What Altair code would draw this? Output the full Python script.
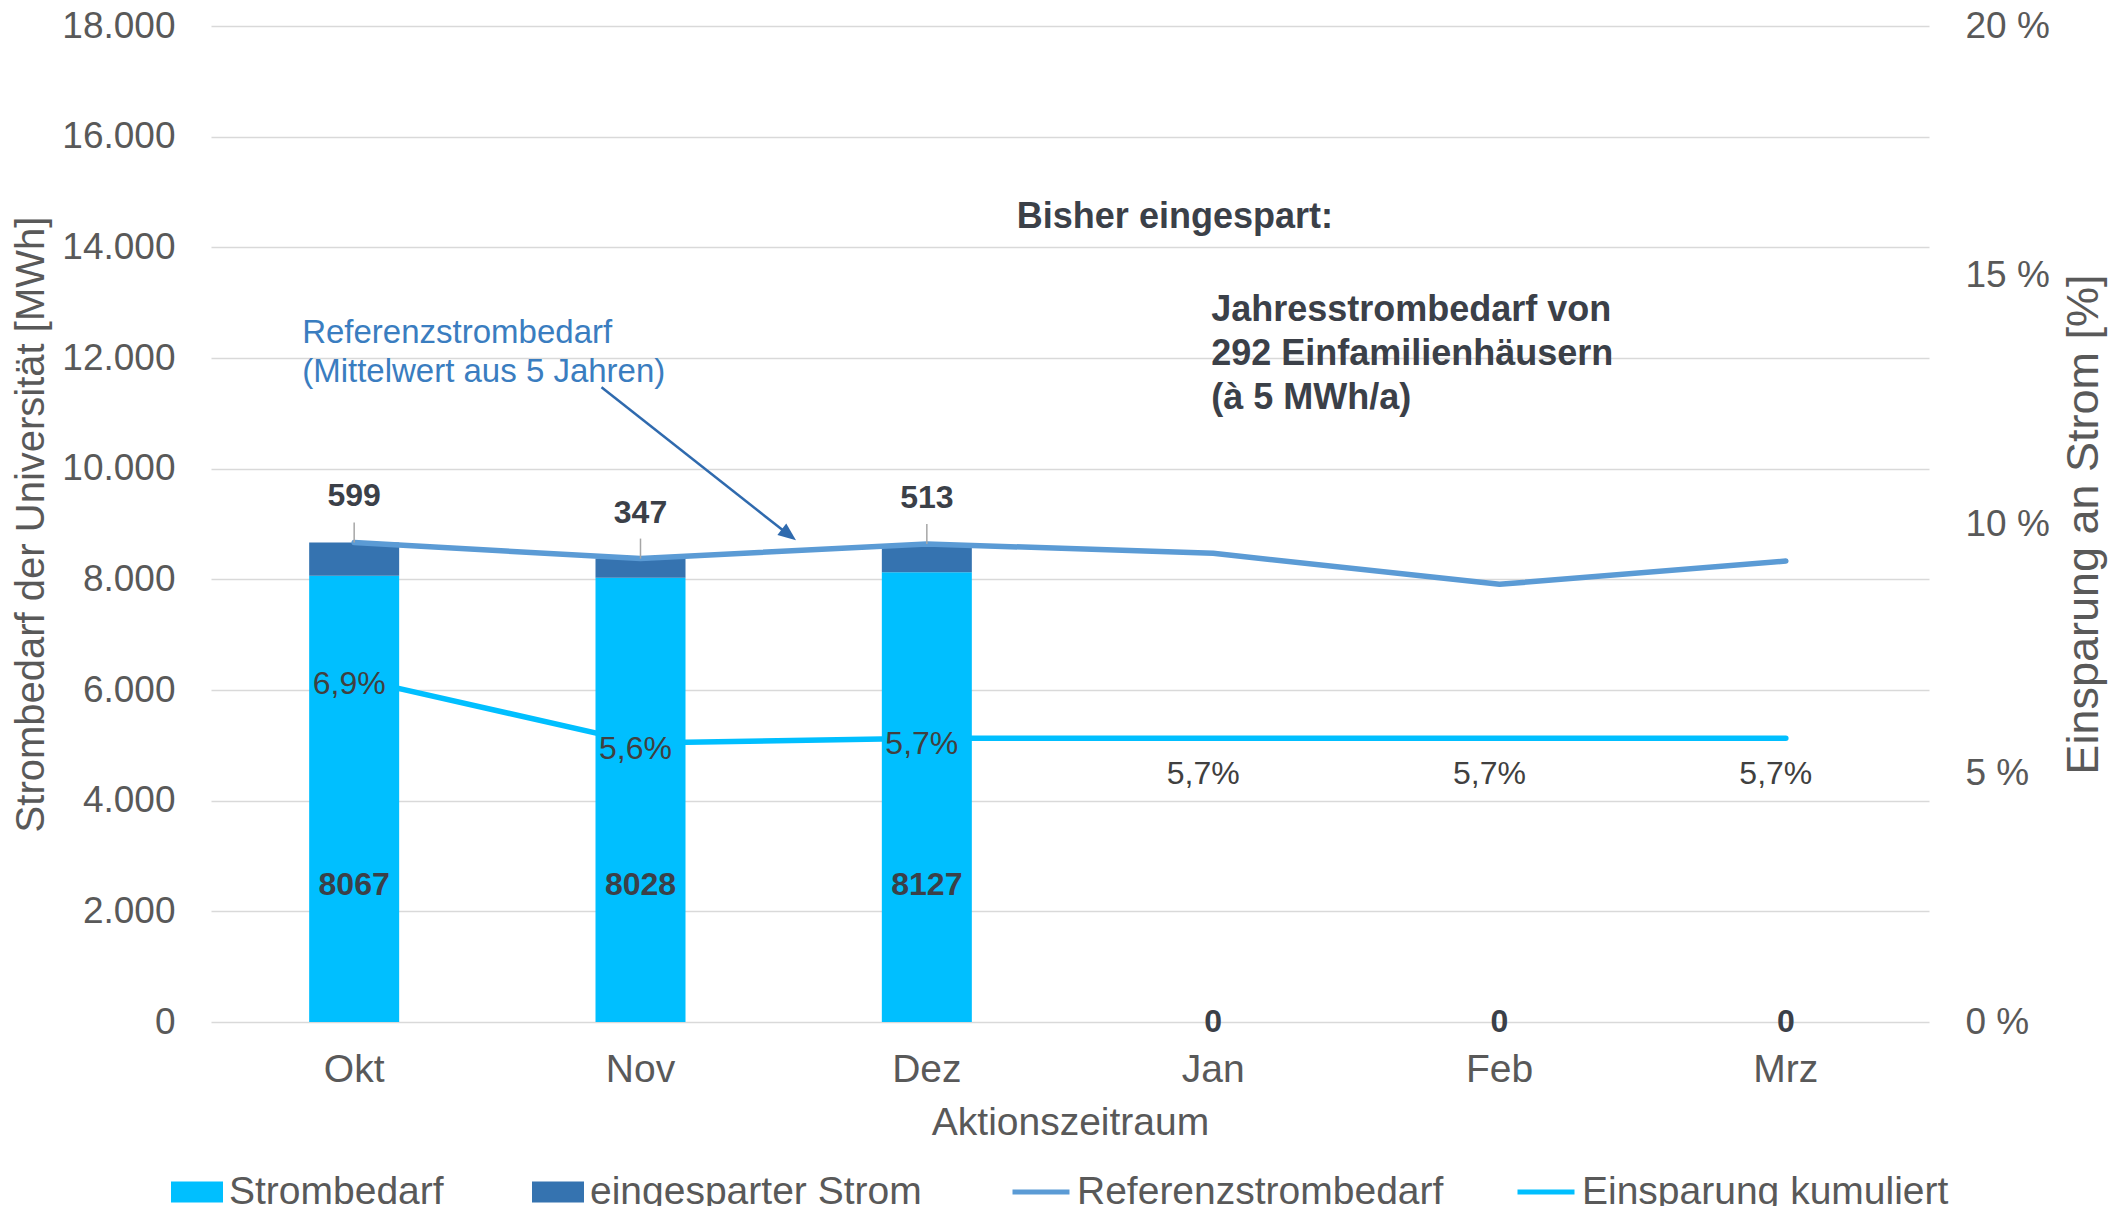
import altair as alt
import pandas as pd

# ---------------- data ----------------
months = ["Okt", "Nov", "Dez", "Jan", "Feb", "Mrz"]
strombedarf = [8067, 8028, 8127, 0, 0, 0]
eingespart = [599, 347, 513, 0, 0, 0]
referenz = [8666, 8375, 8640, 8470, 7910, 8330]
kumuliert = [6.9, 5.6, 5.7, 5.7, 5.7, 5.7]

bar_series = ["Strombedarf", "eingesparter Strom"]
bar_colors = ["#00BFFF", "#3573B0"]
line_series = ["Referenzstrombedarf", "Einsparung kumuliert"]
line_colors = ["#5B9BD5", "#00BFFF"]

y_ticks = list(range(0, 18001, 2000))
pct_ticks = [0, 5, 10, 15, 20]

note_ref = ["Referenzstrombedarf", "(Mittelwert aus 5 Jahren)"]
note_title = "Bisher eingespart:"
note_body = ["Jahresstrombedarf von", "292 Einfamilienhäusern", "(à 5 MWh/a)"]

# ---------------- tables ----------------
wide = pd.DataFrame({
    "Monat": months,
    "Strombedarf": strombedarf,
    "Eingespart": eingespart,
    "Referenz": referenz,
    "Kumuliert": kumuliert,
})
long = pd.DataFrame({
    "Monat": months * 2,
    "Serie": [bar_series[0]] * len(months) + [bar_series[1]] * len(months),
    "Wert": strombedarf + eingespart,
    "idx": [0] * len(months) + [1] * len(months),
})
one = pd.DataFrame({"a": [0]})

FONT = "Liberation Sans"
GRAY = "#595959"
DARK = "#3B4048"

# ---------------- scales / axes ----------------
x_enc = alt.X(
    "Monat:N", sort=months,
    scale=alt.Scale(domain=months, paddingInner=0, paddingOuter=0),
    axis=alt.Axis(title="Aktionszeitraum", labelAngle=0, labelFontSize=39,
                  labelColor=GRAY, labelPadding=28, titleFontSize=39,
                  titleFontWeight="normal", titleColor=GRAY, titlePadding=14,
                  domain=False, ticks=False, tickSize=0, grid=False),
)

lscale = alt.Scale(domain=[0, 18000], nice=False)
laxis = alt.Axis(values=y_ticks,
                 labelExpr="replace(format(datum.value, ','), ',', '.')",
                 title="Strombedarf der Universität [MWh]", titleFontSize=40,
                 titleFontWeight="normal", titleColor=GRAY, titlePadding=10,
                 labelFontSize=37, labelColor=GRAY, labelPadding=36,
                 domain=False, ticks=False, tickSize=0, grid=True,
                 gridColor="#D9D9D9", gridWidth=1.5)

rscale = alt.Scale(domain=[0, 20], nice=False)
raxis = alt.Axis(orient="right", values=pct_ticks, labelExpr="datum.value + ' %'",
                 title="Einsparung an Strom [%]", titleAngle=270, titleBaseline="top",
                 titleFontSize=45, titleFontWeight="normal", titleColor=GRAY,
                 titlePadding=12, labelFontSize=37, labelColor=GRAY,
                 labelPadding=36, domain=False, ticks=False, tickSize=0, grid=False)


def ly(field):
    return alt.Y(field, scale=lscale, axis=laxis)


def ry(field):
    return alt.Y(field, scale=rscale, axis=raxis)


fill_legend = alt.Legend(title=None, orient="none", legendX=-40, legendY=1140,
                         direction="horizontal", symbolType="M-1,-0.4H1V0.4H-1Z",
                         symbolSize=2704, symbolStrokeWidth=0, labelFontSize=39,
                         labelColor=GRAY, labelFont=FONT, labelOffset=6,
                         columnPadding=88, labelLimit=0)
stroke_legend = alt.Legend(title=None, orient="none", legendX=799, legendY=1135,
                           direction="horizontal", symbolType="stroke",
                           symbolSize=3249, symbolStrokeWidth=5, labelFontSize=39,
                           labelColor=GRAY, labelFont=FONT, labelOffset=5,
                           columnPadding=63, labelLimit=0)
stroke_scale = alt.Scale(domain=line_series, range=line_colors)

# ---------------- left (MWh) layers ----------------
bars = alt.Chart(long).mark_bar(width=90).encode(
    x=x_enc,
    y=alt.Y("Wert:Q", stack="zero", scale=lscale, axis=laxis),
    fill=alt.Fill("Serie:N", scale=alt.Scale(domain=bar_series, range=bar_colors),
                  legend=fill_legend),
    order=alt.Order("idx:Q"),
)

ref_line = alt.Chart(wide).transform_calculate(
    Linie="'Referenzstrombedarf'"
).mark_line(strokeWidth=5.5, strokeCap="round", strokeJoin="round").encode(
    x=x_enc, y=ly("Referenz:Q"),
    stroke=alt.Stroke("Linie:N", scale=stroke_scale, legend=stroke_legend),
)

bar_labels = alt.Chart(wide).transform_calculate(
    label_y="datum.Strombedarf > 0 ? 2480 : 0"
).mark_text(font=FONT, fontWeight="bold", fontSize=32, color=DARK,
            baseline="middle").encode(
    x=x_enc, y=ly("label_y:Q"), text=alt.Text("Strombedarf:Q", format="d"),
)

saved = alt.Chart(wide).transform_filter("datum.Eingespart > 0").transform_calculate(
    top="datum.Strombedarf + datum.Eingespart"
)
leader = saved.mark_rule(color="#A6A6A6", strokeWidth=1.5, y2Offset=-20).encode(
    x=x_enc, y=ly("top:Q"), y2="top:Q",
)
saved_labels = saved.mark_text(font=FONT, fontWeight="bold", fontSize=32, color=DARK,
                               baseline="middle", dy=-46).encode(
    x=x_enc, y=ly("top:Q"), text=alt.Text("Eingespart:Q", format="d"),
)

blue_note = alt.Chart(one).mark_text(
    text=note_ref, align="left", baseline="top", dx=-52, lineHeight=38.5,
    font=FONT, fontSize=33, color="#3A7DC0",
).encode(x=alt.datum("Okt"), y=alt.datum(12738))

arrow_rule = alt.Chart(one).mark_rule(
    color="#2F6AAE", strokeWidth=2.5, xOffset=-39, x2Offset=145
).encode(x=alt.datum("Nov"), x2=alt.datum("Nov"),
         y=alt.datum(11470), y2=alt.datum(8850))
arrow_head = alt.Chart(one).mark_point(
    shape="M0,0L-2,-0.8L-2,0.8Z", filled=True, size=324, angle=38,
    color="#2F6AAE", opacity=1, strokeWidth=0, xOffset=155.5,
).encode(x=alt.datum("Nov"), y=alt.datum(8705))

title_note = alt.Chart(one).mark_text(
    text=note_title, align="left", baseline="middle", dx=90,
    font=FONT, fontSize=36, fontWeight="bold", color=DARK,
).encode(x=alt.datum("Dez"), y=alt.datum(14543))

body_note = alt.Chart(one).mark_text(
    text=note_body, align="left", baseline="top", dx=-2, lineHeight=44,
    font=FONT, fontSize=36, fontWeight="bold", color=DARK,
).encode(x=alt.datum("Jan"), y=alt.datum(13178))

left = alt.layer(bars, ref_line, bar_labels, leader, saved_labels,
                 blue_note, arrow_rule, arrow_head, title_note, body_note)

# ---------------- right (%) layers ----------------
kum_line = alt.Chart(wide).transform_calculate(
    Linie="'Einsparung kumuliert'"
).mark_line(strokeWidth=5.5, strokeCap="round", strokeJoin="round").encode(
    x=x_enc, y=ry("Kumuliert:Q"),
    stroke=alt.Stroke("Linie:N", scale=stroke_scale, legend=stroke_legend),
)

pct = alt.Chart(wide).transform_calculate(
    pct_txt="replace(format(datum.Kumuliert, '.1f'), '.', ',') + '%'"
)
pct_in = pct.transform_filter("datum.Strombedarf > 0").mark_text(
    font=FONT, fontSize=32, color="#404040", baseline="middle", dy=6, dx=-5
).encode(x=x_enc, y=ry("Kumuliert:Q"), text="pct_txt:N")
pct_out = pct.transform_filter("datum.Strombedarf <= 0").mark_text(
    font=FONT, fontSize=32, color="#404040", baseline="middle", dy=36, dx=-10
).encode(x=x_enc, y=ry("Kumuliert:Q"), text="pct_txt:N")

right = alt.layer(kum_line, pct_in, pct_out)

chart = alt.layer(left, right).resolve_scale(y="independent").properties(
    width=1718, height=996,
    autosize=alt.AutoSizeParams(type="none"),
    padding={"left": 203, "top": 18, "right": 189, "bottom": 184},
).configure(font=FONT).configure_view(stroke=None)

chart.save("out.html", embed_options={"renderer": "svg", "actions": False})
